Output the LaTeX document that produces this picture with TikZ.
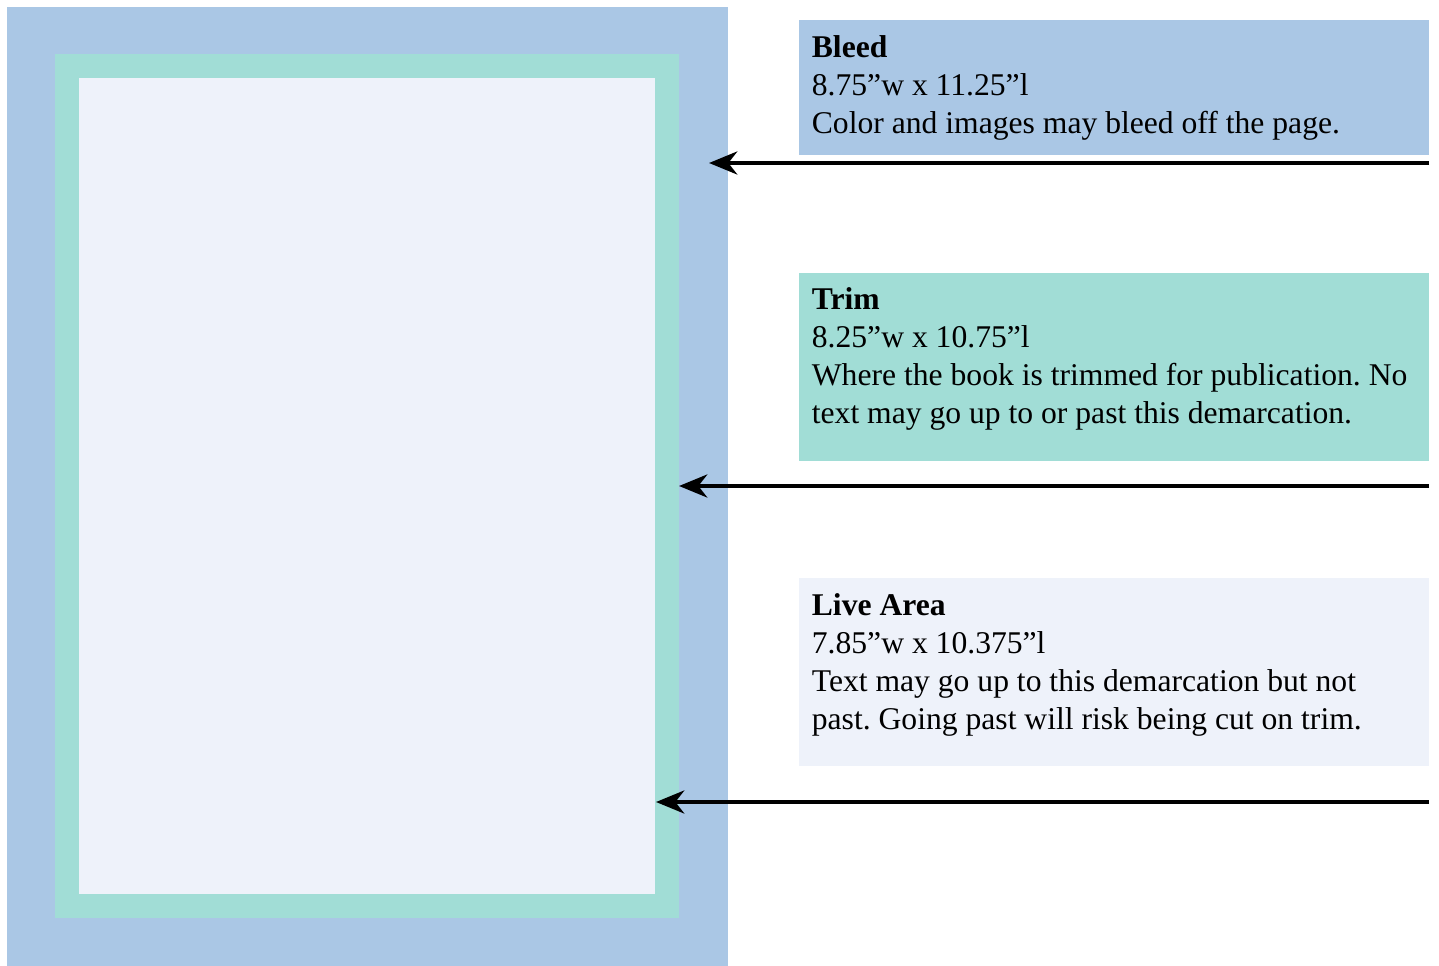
\documentclass[tikz,border=0pt]{standalone}
\usepackage{fontspec}
\setmainfont{Liberation Serif}
\usetikzlibrary{arrows.meta}
\frenchspacing

\definecolor{bleedblue}{HTML}{AAC7E5}
\definecolor{trimgreen}{HTML}{A1DDD6}
\definecolor{livewhite}{HTML}{EEF2FA}

\tikzset{
every picture/.style={
line width=1pt
},
infotext/.style={anchor=north west, align=left, inner sep=0pt,
  font=\fontsize{18}{21.6}\selectfont},
pointer/.style={line width=2.8pt, -{Stealth[length=16pt, width=13pt, inset=5pt]}}
}

\begin{document}
\begin{tikzpicture}[x=0.02cm, y=-0.02cm]
  \useasboundingbox (0,0) rectangle (1439,966);

  % page, outside in
  \fill[bleedblue] (7,7) rectangle (728,966);
  \fill[trimgreen] (55,54) rectangle (679,918);
  \fill[livewhite] (79,78) rectangle (655,894);

  % notes
  \fill[bleedblue] (799,20) rectangle (1429,155);
  \node[infotext] (bleedtext) at (811,35) {\textbf{Bleed}\\8.75”w x 11.25”l\\Color and images may bleed off the page.};

  \fill[trimgreen] (799,273) rectangle (1429,461);
  \node[infotext] (trimtext) at (811,287) {\textbf{Trim}\\8.25”w x 10.75”l\\Where the book is trimmed for publication. No\\text may go up to or past this demarcation.};

  \fill[livewhite] (799,578) rectangle (1429,766);
  \node[infotext] (livetext) at (811,593) {\textbf{Live Area}\\7.85”w x 10.375”l\\Text may go up to this demarcation but not\\past. Going past will risk being cut on trim.};

  % arrows
  \foreach \name/\y/\tip in {bleed/163/709, trim/486/679, live/802/656}{
    \coordinate (\name tail) at (1429,\y);
    \coordinate (\name tip) at (\tip,\y);
    \draw[pointer] (\name tail) -- (\name tip);
  }
\end{tikzpicture}
\end{document}
